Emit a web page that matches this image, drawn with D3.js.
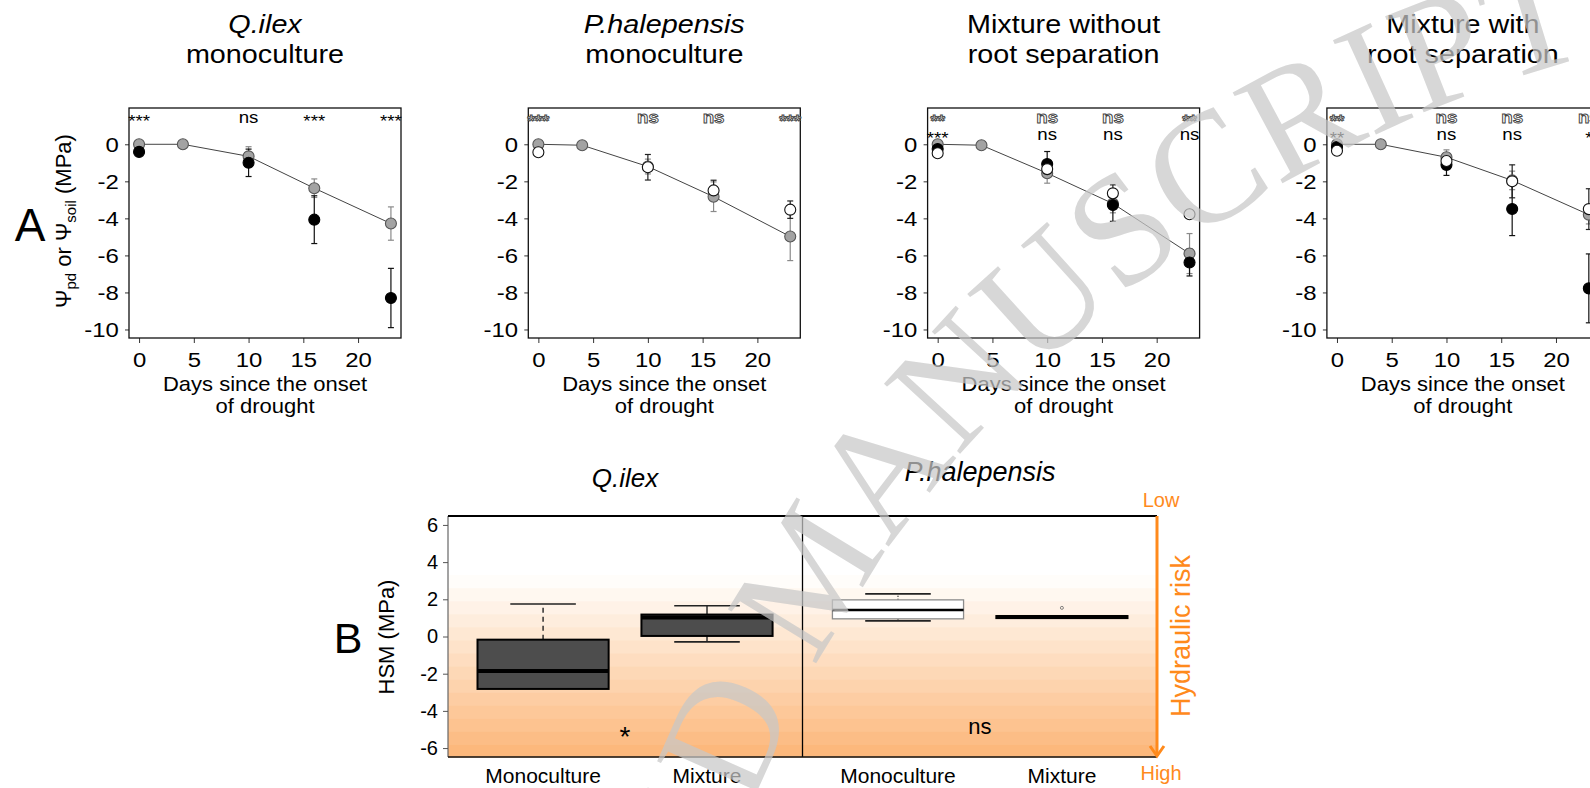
<!DOCTYPE html>
<html>
<head>
<meta charset="utf-8">
<script src="https://cdn.jsdelivr.net/npm/d3@7"></script>
<style>
  body { margin: 0; background: #fff; }
  svg { display: block; }
  text { font-family: "Liberation Sans", Arial, sans-serif; fill: #000; }
</style>
</head>
<body>
<svg id="fig" width="1590" height="788"></svg>
<script>
// ---- data (panel A) ----
const days = [0, 4, 10, 16, 23];
const dayTicks = [0, 5, 10, 15, 20];
const psiTicks = [0, -2, -4, -6, -8, -10];

const panelTitles = [
    ["Q.ilex", "monoculture"],
    ["P.halepensis", "monoculture"],
    ["Mixture without", "root separation"],
    ["Mixture with", "root separation"]
];

// soil water potential (grey dots), one row per panel
const soilMean = [
    [0, 0, -0.65, -2.37, -4.28],
    [0, -0.05, -1.2, -2.83, -4.98],
    [0, -0.05, -1.56, -3.2, -5.9],
    [0, 0, -0.7, -1.95, -3.8]
];
const soilErr = [
    [0, 0, 0.52, 0.5, 0.9],
    [0, 0, 0.4, 0.8, 1.3],
    [0, 0, 0.54, 0.5, 1.08],
    [0, 0, 0.4, 0.5, 0.5]
];
// predawn potential Q.ilex (black dots)
const qilexMean = [
    [-0.41, null, -1.0, -4.07, -8.3],
    null,
    [-0.25, null, -1.06, -3.28, -6.38],
    [-0.15, null, -1.11, -3.49, -7.78]
];
const qilexErr = [
    [0, null, 0.74, 1.29, 1.6],
    null,
    [0, null, 0.67, 0.88, 0.73],
    [0, null, 0.57, 1.44, 1.86]
];
// predawn potential P.halepensis (white dots)
const phalMean = [
    null,
    [-0.43, null, -1.24, -2.49, -3.53],
    [-0.48, null, -1.34, -2.65, -3.78],
    [-0.35, null, -0.9, -2.0, -3.5]
];
const phalErr = [
    null,
    [0, null, 0.69, 0.55, 0.47],
    [0, null, 0.4, 0.46, 0],
    [0, null, 0.35, 0.89, 1.1]
];

// significance letters above each day
const sigRow1 = [
    ["***", null, "ns", "***", "***"],
    ["***", null, "ns", "ns", "***"],
    ["**", null, "ns", "ns", "**"],
    ["**", null, "ns", "ns", "ns"]
];
const sigRow2 = [
    null,
    null,
    ["***", null, "ns", "ns", "ns"],
    ["**", null, "ns", "ns", "*"]
];

// ---- data (panel B) ----
const boxSpecies = ["Q.ilex", "P.halepensis"];
const boxCats = ["Monoculture", "Mixture", "Monoculture", "Mixture"];
const boxLow = [-2.82, -0.29, 0.84, 1.0];
const boxQ1 = [-2.82, 0.03, 0.95, 0.99];
const boxMed = [-1.85, 1.02, 1.43, 1.05];
const boxQ3 = [-0.17, 1.18, 1.97, 1.1];
const boxHigh = [1.75, 1.65, 2.29, 1.1];
const boxOutliers = [[], [], [], [1.54]];
const hsmTicks = [6, 4, 2, 0, -2, -4, -6];
const speciesSig = ["*", "ns"];

// ---- layout ----
const svg = d3.select("#fig");
const panelLeft0 = 129, panelStep = 399.3, panelW = 272;
const panelTop = 108, panelBottom = 338;
const topSx = 1.14;
const orange = "#ff8a1c";

function addText(g, x, y, str, size, opts = {}) {
    const t = g.append("text")
        .attr("transform", `translate(${x},${y}) rotate(${opts.rotate || 0}) scale(${opts.sx || 1},1)`)
        .attr("text-anchor", opts.anchor || "middle")
        .style("font-size", size + "px");
    if (opts.italic) t.style("font-style", "italic");
    if (opts.fill) t.style("fill", opts.fill);
    t.text(str);
    return t;
}

function drawPanel(i) {
    const left = panelLeft0 + i * panelStep;
    const x = d3.scaleLinear().domain([-0.92, 23.92]).range([left, left + panelW]);
    const y = d3.scaleLinear().domain([-10.46, 1.96]).range([panelBottom, panelTop]);
    const g = svg.append("g");
    const cx = left + panelW / 2;

    // titles
    addText(g, cx, 33, panelTitles[i][0], 25, { sx: 1.15, italic: i < 2 });
    addText(g, cx, 63, panelTitles[i][1], 25, { sx: 1.15 });

    // axes
    const ya = g.append("g").attr("transform", `translate(${left},0)`)
        .call(d3.axisLeft(y).tickValues(psiTicks).tickSize(4).tickPadding(5).tickFormat(d => String(d)));
    const xa = g.append("g").attr("transform", `translate(0,${panelBottom})`)
        .call(d3.axisBottom(x).tickValues(dayTicks).tickSize(5).tickPadding(9).tickFormat(d => String(d)));
    [ya, xa].forEach(a => {
        a.select(".domain").remove();
        a.selectAll("text").style("font-size", "21px").style("font-family", "Liberation Sans, Arial, sans-serif")
            .attr("transform", `scale(${topSx},1)`);
        a.selectAll("line").attr("stroke", "#333");
    });

    g.append("rect").attr("x", left).attr("y", panelTop)
        .attr("width", panelW).attr("height", panelBottom - panelTop)
        .attr("fill", "none").attr("stroke", "#111").attr("stroke-width", 1.3);

    addText(g, cx, 391, "Days since the onset", 20, { sx: 1.1 });
    addText(g, cx, 413, "of drought", 20, { sx: 1.1 });

    // soil line
    const line = d3.line().x((d, k) => x(days[k])).y(d => y(d));
    g.append("path").attr("d", line(soilMean[i]))
        .attr("fill", "none").attr("stroke", "#444").attr("stroke-width", 1);

    const series = [
        { mean: soilMean[i], err: soilErr[i], fill: "#a3a3a3", stroke: "#555", errColor: "#8a8a8a" },
        { mean: qilexMean[i], err: qilexErr[i], fill: "#000", stroke: "#000", errColor: "#111" },
        { mean: phalMean[i], err: phalErr[i], fill: "#fff", stroke: "#111", errColor: "#222" }
    ].filter(s => s.mean);

    series.forEach(s => {
        s.mean.forEach((m, k) => {
            if (m === null || !s.err[k]) return;
            const px = x(days[k]);
            const eg = g.append("g").attr("stroke", s.errColor).attr("stroke-width", 1.2);
            eg.append("line").attr("x1", px).attr("x2", px).attr("y1", y(m + s.err[k])).attr("y2", y(m - s.err[k]));
            [m + s.err[k], m - s.err[k]].forEach(v => {
                eg.append("line").attr("x1", px - 3).attr("x2", px + 3).attr("y1", y(v)).attr("y2", y(v));
            });
        });
    });
    series.forEach(s => {
        g.selectAll(null).data(s.mean.map((m, k) => [days[k], m]).filter(d => d[1] !== null))
            .enter().append("circle")
            .attr("cx", d => x(d[0])).attr("cy", d => y(d[1])).attr("r", 5.5)
            .attr("fill", s.fill).attr("stroke", s.stroke).attr("stroke-width", 1.1);
    });

    // significance
    const rows = [[sigRow1[i], 123, i === 0 ? "solid" : "hollow"], [sigRow2[i], 140, "solid"]];
    rows.forEach(([labels, base, style]) => {
        if (!labels) return;
        labels.forEach((lab, k) => {
            if (!lab) return;
            const isStar = lab.includes("*");
            const t = addText(g, x(days[k]), base + (isStar ? 4 : 0), lab, 17, { sx: 1.1 });
            if (style === "hollow") {
                t.style("fill", "#fff").style("stroke", "#444").style("stroke-width", 0.9)
                    .style("font-weight", "bold");
            }
        });
    });
}

d3.range(4).forEach(drawPanel);

// panel A label and y label
addText(svg, 30, 241, "A", 46);
const yl = svg.append("text").attr("transform", "translate(71,221) rotate(-90)")
    .attr("text-anchor", "middle").style("font-size", "22px");
yl.append("tspan").text("Ψ");
yl.append("tspan").attr("dy", 5).style("font-size", "15px").text("pd");
yl.append("tspan").attr("dy", -5).text(" or Ψ");
yl.append("tspan").attr("dy", 5).style("font-size", "15px").text("soil");
yl.append("tspan").attr("dy", -5).text(" (MPa)");

// ---- panel B ----
const bLeft = 448, bRight = 1157, bTop = 516, bBottom = 757;
const slotPos = [0, 1, 2.165, 3.165];
const xB = d3.scaleLinear().domain([-0.58, 3.745]).range([bLeft, bRight]);
const yB = d3.scaleLinear().domain([-6.48, 6.48]).range([bBottom, bTop]);
const gB = svg.append("g");

// background bands of hydraulic risk
const bandStep = 0.7, bandTop = 3.3;
const bandEdges = d3.range(bandTop, -6.48, -bandStep);
const bandColor = d3.interpolateRgb("#fffdfa", "#fcb373");
gB.selectAll(null).data(bandEdges).enter().append("rect")
    .attr("x", bLeft).attr("width", bRight - bLeft)
    .attr("y", d => yB(d))
    .attr("height", d => yB(Math.max(d - bandStep, -6.48)) - yB(d) + 0.5)
    .attr("fill", d => bandColor((bandTop - d) / (bandTop + 6.48)));

// divider
gB.append("line").attr("x1", xB(1.5825)).attr("x2", xB(1.5825)).attr("y1", bTop).attr("y2", bBottom)
    .attr("stroke", "#000").attr("stroke-width", 1.3);

// boxes
const boxHalf = 0.4, capHalf = 0.2;
const boxStyle = [
    { fill: "#4d4d4d", stroke: "#000", sw: 2, med: 4, whiskerDash: "5,4" },
    { fill: "#4d4d4d", stroke: "#000", sw: 2, med: 4, whiskerDash: null },
    { fill: "#fff", stroke: "#8c8c8c", sw: 1.3, med: 2.5, whiskerDash: "1,2" },
    { fill: "#4d4d4d", stroke: "#000", sw: 2, med: 4, whiskerDash: null }
];
boxCats.forEach((c, k) => {
    const p = slotPos[k], st = boxStyle[k];
    const g = gB.append("g");
    // whiskers
    [[boxQ3[k], boxHigh[k]], [boxQ1[k], boxLow[k]]].forEach(([a, b]) => {
        if (Math.abs(a - b) < 0.01) return;
        g.append("line").attr("x1", xB(p)).attr("x2", xB(p)).attr("y1", yB(a)).attr("y2", yB(b))
            .attr("stroke", "#222").attr("stroke-width", 1.4)
            .attr("stroke-dasharray", st.whiskerDash);
        g.append("line").attr("x1", xB(p - capHalf)).attr("x2", xB(p + capHalf)).attr("y1", yB(b)).attr("y2", yB(b))
            .attr("stroke", "#222").attr("stroke-width", 1.6);
    });
    g.append("rect").attr("x", xB(p - boxHalf)).attr("width", xB(p + boxHalf) - xB(p - boxHalf))
        .attr("y", yB(boxQ3[k])).attr("height", yB(boxQ1[k]) - yB(boxQ3[k]))
        .attr("fill", st.fill).attr("stroke", st.stroke).attr("stroke-width", st.sw);
    g.append("line").attr("x1", xB(p - boxHalf)).attr("x2", xB(p + boxHalf))
        .attr("y1", yB(boxMed[k])).attr("y2", yB(boxMed[k]))
        .attr("stroke", "#000").attr("stroke-width", st.med);
    boxOutliers[k].forEach(v => {
        g.append("circle").attr("cx", xB(p)).attr("cy", yB(v)).attr("r", 1.5)
            .attr("fill", "none").attr("stroke", "#666").attr("stroke-width", 0.8);
    });
    addText(gB, xB(p), 783, c, 21);
});

// frame lines
const ayB = gB.append("g").attr("transform", `translate(${bLeft},0)`)
    .call(d3.axisLeft(yB).tickValues(hsmTicks).tickSize(5).tickPadding(5).tickFormat(d => String(d)));
ayB.select(".domain").attr("stroke", "#666").attr("stroke-width", 1.2)
    .attr("d", `M0,${bTop}V${bBottom}`);
ayB.selectAll("line").attr("stroke", "#555");
ayB.selectAll("text").style("font-size", "20px").style("font-family", "Liberation Sans, Arial, sans-serif");
gB.append("line").attr("x1", bLeft).attr("x2", bRight).attr("y1", bTop).attr("y2", bTop)
    .attr("stroke", "#000").attr("stroke-width", 2.2);
gB.append("line").attr("x1", bLeft).attr("x2", bRight).attr("y1", bBottom).attr("y2", bBottom)
    .attr("stroke", "#111").attr("stroke-width", 1.5);

// species titles and tests
addText(gB, xB(0.5), 487, boxSpecies[0], 26, { italic: true });
addText(gB, xB(2.665), 481, boxSpecies[1], 27, { italic: true });
addText(gB, xB(0.5), 746, speciesSig[0], 28);
addText(gB, xB(2.665), 734, speciesSig[1], 22);

addText(svg, 348, 653, "B", 43);
addText(svg, 394, 637, "HSM (MPa)", 22, { rotate: -90 });

// hydraulic risk arrow
const arrow = gB.append("g").attr("stroke", orange).attr("stroke-width", 3).attr("fill", "none");
arrow.append("line").attr("x1", bRight).attr("x2", bRight).attr("y1", bTop).attr("y2", bBottom - 1);
arrow.append("path").attr("d", `M${bRight - 7},${bBottom - 11}L${bRight},${bBottom - 1}L${bRight + 7},${bBottom - 11}`);
addText(gB, 1161, 507, "Low", 20, { fill: orange });
addText(gB, 1161, 780, "High", 20, { fill: orange });
addText(gB, 1190, 636, "Hydraulic risk", 27, { rotate: -90, fill: orange });

// manuscript watermark, set on a wide arc
const wmC = [1911, 1257.5], wmR = 1244;
const wmPt = a => [wmC[0] + wmR * Math.cos(a * Math.PI / 180), wmC[1] + wmR * Math.sin(a * Math.PI / 180)];
const [w0, w1] = [wmPt(-200), wmPt(-85)];
const wm = svg.append("g").attr("opacity", 0.72);
wm.append("path").attr("id", "wmPath")
    .attr("d", `M${w0[0]},${w0[1]}A${wmR},${wmR} 0 0 1 ${w1[0]},${w1[1]}`).attr("fill", "none");
wm.append("text").style("font-family", "Liberation Serif, Times New Roman, serif")
    .style("font-size", "158px").style("fill", "#c8c8c8")
    .append("textPath").attr("href", "#wmPath").attr("startOffset", 192)
    .text("ACCEPTED MANUSCRIPT");
</script>
</body>
</html>
